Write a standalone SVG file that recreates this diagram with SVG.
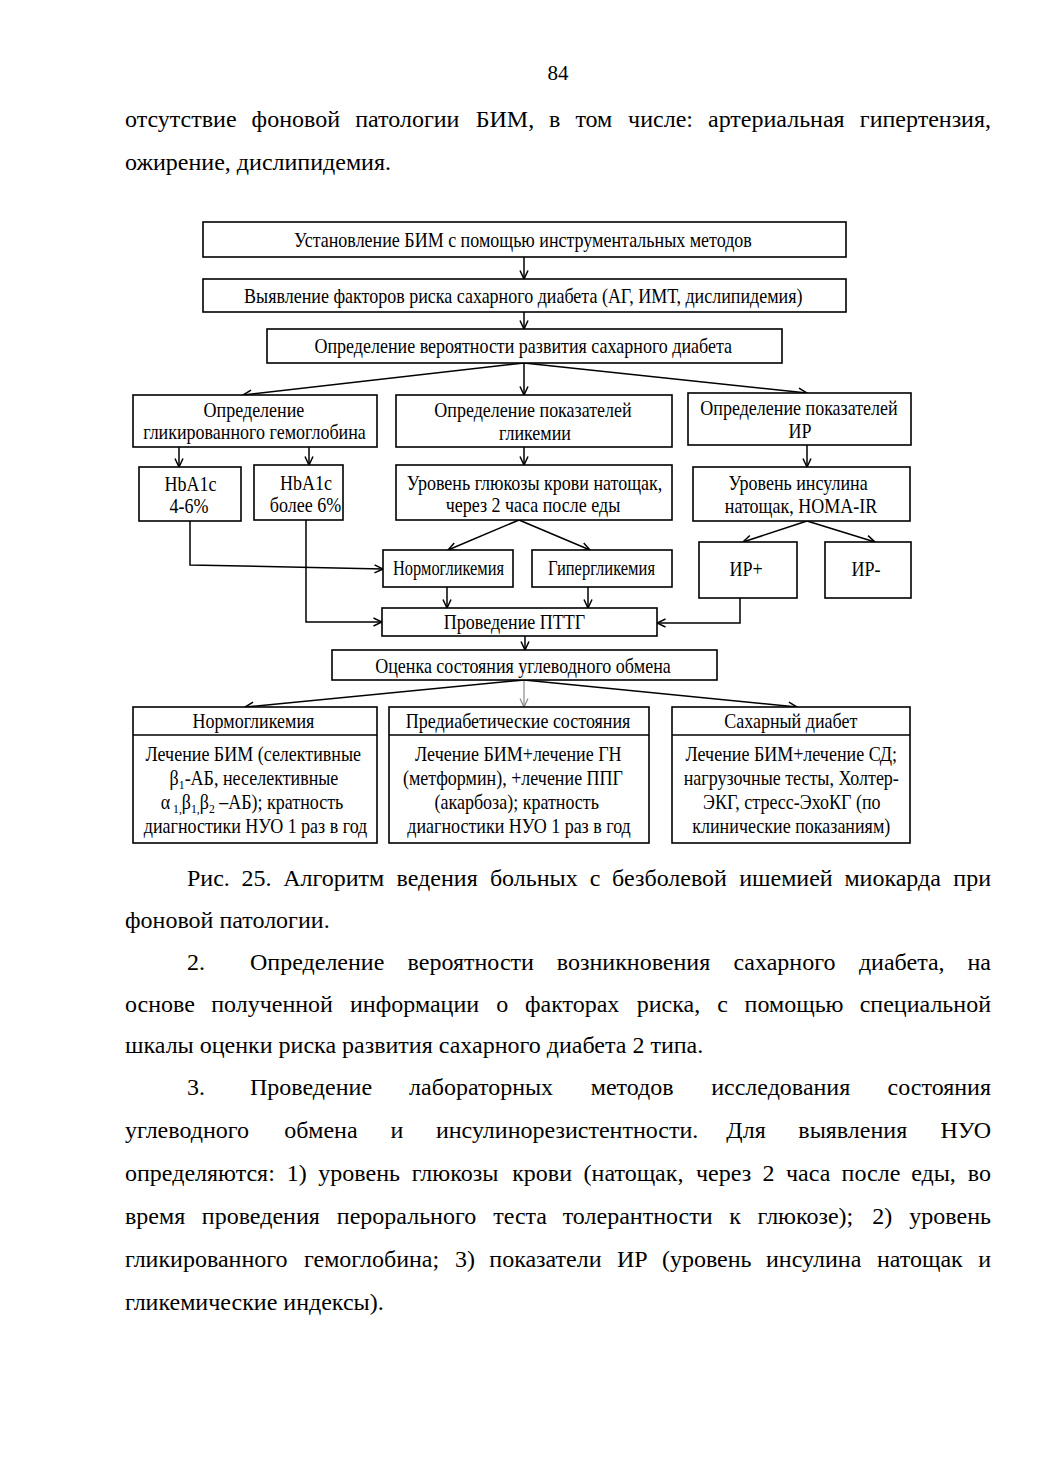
<svg xmlns="http://www.w3.org/2000/svg" width="1040" height="1471" viewBox="0 0 1040 1471">
<defs>
<style>
.bx{fill:#fff;stroke:#000;stroke-width:1.6}
.ln{fill:none;stroke:#000;stroke-width:1.5}
.lg{fill:none;stroke:#8a8a8a;stroke-width:1.2}
.t{font-family:"Liberation Serif","Times New Roman",serif;font-size:20px;fill:#000;text-anchor:middle}
.p{font-family:"Liberation Serif","Times New Roman",serif;font-size:24px;fill:#000}
.e{text-anchor:end}
.sb{font-size:13px}
</style>
<marker id="ah" viewBox="0 0 10 10" refX="9.5" refY="5" markerWidth="10" markerHeight="10" markerUnits="userSpaceOnUse" orient="auto">
<path d="M1,1 L9.5,5 L1,9" fill="none" stroke="#000" stroke-width="1.5"/>
</marker>
<marker id="ahg" viewBox="0 0 10 10" refX="9.5" refY="5" markerWidth="10" markerHeight="10" markerUnits="userSpaceOnUse" orient="auto">
<path d="M1,1 L9.5,5 L1,9" fill="none" stroke="#8a8a8a" stroke-width="1.2"/>
</marker>
</defs>
<rect width="1040" height="1471" fill="#fff"/>

<g id="page-text">
<text class="p" x="558" y="80" style="font-size:21px;text-anchor:middle">84</text>
<text class="p" y="127"><tspan x="125">отсутствие</tspan><tspan x="251.6">фоновой</tspan><tspan x="355.2">патологии</tspan><tspan x="475.7">БИМ,</tspan><tspan x="549.1">в</tspan><tspan x="575.4">том</tspan><tspan x="628.1">числе:</tspan><tspan x="708">артериальная</tspan></text>
<text class="p e" x="991" y="127">гипертензия,</text>
<text class="p" x="125" y="170">ожирение, дислипидемия.</text>

<text class="p" y="886"><tspan x="187">Рис.</tspan><tspan x="241.5">25.</tspan><tspan x="283.2">Алгоритм</tspan><tspan x="396.6">ведения</tspan><tspan x="489.9">больных</tspan><tspan x="589.7">с</tspan><tspan x="612.1">безболевой</tspan><tspan x="739.2">ишемией</tspan><tspan x="844.4">миокарда</tspan></text>
<text class="p e" x="991" y="886">при</text>
<text class="p" x="125" y="928">фоновой патологии.</text>

<text class="p" y="970"><tspan x="187">2.</tspan><tspan x="250">Определение</tspan><tspan x="407.6">вероятности</tspan><tspan x="556.8">возникновения</tspan><tspan x="733.4">сахарного</tspan><tspan x="858.9">диабета,</tspan></text>
<text class="p e" x="991" y="970">на</text>
<text class="p" y="1011.5"><tspan x="125">основе</tspan><tspan x="211.2">полученной</tspan><tspan x="350">информации</tspan><tspan x="496.3">о</tspan><tspan x="525">факторах</tspan><tspan x="636.7">риска,</tspan><tspan x="717.2">с</tspan><tspan x="744.6">помощью</tspan></text>
<text class="p e" x="991" y="1011.5">специальной</text>
<text class="p" x="125" y="1053">шкалы оценки риска развития сахарного диабета 2 типа.</text>

<text class="p" y="1095"><tspan x="187">3.</tspan><tspan x="250">Проведение</tspan><tspan x="409.1">лабораторных</tspan><tspan x="590.7">методов</tspan><tspan x="711.2">исследования</tspan></text>
<text class="p e" x="991" y="1095">состояния</text>
<text class="p" y="1138"><tspan x="125">углеводного</tspan><tspan x="284.3">обмена</tspan><tspan x="390.5">и</tspan><tspan x="435.9">инсулинорезистентности.</tspan><tspan x="726.3">Для</tspan><tspan x="798.3">выявления</tspan></text>
<text class="p e" x="991" y="1138">НУО</text>
<text class="p" y="1181"><tspan x="125">определяются:</tspan><tspan x="286.8">1)</tspan><tspan x="318.3">уровень</tspan><tspan x="411.7">глюкозы</tspan><tspan x="512.2">крови</tspan><tspan x="583.6">(натощак,</tspan><tspan x="696">через</tspan><tspan x="762.4">2</tspan><tspan x="786">часа</tspan><tspan x="841.6">после</tspan><tspan x="911.2">еды,</tspan></text>
<text class="p e" x="991" y="1181">во</text>
<text class="p" y="1224"><tspan x="125">время</tspan><tspan x="201.8">проведения</tspan><tspan x="336.8">перорального</tspan><tspan x="493.2">теста</tspan><tspan x="562.7">толерантности</tspan><tspan x="729.2">к</tspan><tspan x="757.5">глюкозе);</tspan><tspan x="872.3">2)</tspan></text>
<text class="p e" x="991" y="1224">уровень</text>
<text class="p" y="1266.7"><tspan x="125">гликированного</tspan><tspan x="304">гемоглобина;</tspan><tspan x="455">3)</tspan><tspan x="489.3">показатели</tspan><tspan x="616.9">ИР</tspan><tspan x="661.9">(уровень</tspan><tspan x="766">инсулина</tspan><tspan x="876.9">натощак</tspan></text>
<text class="p e" x="991" y="1266.7">и</text>
<text class="p" x="125" y="1310">гликемические индексы).</text>
</g>

<g id="connectors">
<line class="ln" x1="524" y1="257" x2="524" y2="279" marker-end="url(#ah)"/>
<line class="ln" x1="524" y1="312" x2="524" y2="329" marker-end="url(#ah)"/>
<line class="ln" x1="524" y1="363" x2="243" y2="395" marker-end="url(#ah)"/>
<line class="ln" x1="524" y1="363" x2="524" y2="395" marker-end="url(#ah)"/>
<line class="ln" x1="524" y1="363" x2="807" y2="393" marker-end="url(#ah)"/>
<line class="ln" x1="179" y1="447" x2="179" y2="467" marker-end="url(#ah)"/>
<line class="ln" x1="309" y1="447" x2="309" y2="465" marker-end="url(#ah)"/>
<line class="ln" x1="524" y1="447" x2="524" y2="465" marker-end="url(#ah)"/>
<line class="ln" x1="807" y1="445" x2="807" y2="467" marker-end="url(#ah)"/>
<polyline class="ln" points="190,521 190,565 383,569" marker-end="url(#ah)"/>
<polyline class="ln" points="306,520 306,622 382,622" marker-end="url(#ah)"/>
<line class="ln" x1="519" y1="520" x2="448" y2="550" marker-end="url(#ah)"/>
<line class="ln" x1="519" y1="520" x2="590" y2="550" marker-end="url(#ah)"/>
<line class="ln" x1="807" y1="521" x2="743" y2="542" marker-end="url(#ah)"/>
<line class="ln" x1="807" y1="521" x2="875" y2="542" marker-end="url(#ah)"/>
<line class="ln" x1="447" y1="587" x2="447" y2="608" marker-end="url(#ah)"/>
<line class="ln" x1="588" y1="587" x2="588" y2="608" marker-end="url(#ah)"/>
<polyline class="ln" points="740,598 740,623 657,623" marker-end="url(#ah)"/>
<line class="ln" x1="525" y1="636" x2="525" y2="650" marker-end="url(#ah)"/>
<line class="ln" x1="524" y1="680" x2="245" y2="707" marker-end="url(#ah)"/>
<line class="lg" x1="524" y1="680" x2="524" y2="707" marker-end="url(#ahg)"/>
<line class="ln" x1="524" y1="680" x2="797" y2="707" marker-end="url(#ah)"/>
</g>

<g id="n-ustanovlenie">
<rect class="bx" x="203" y="222" width="643" height="35"/>
<text class="t" transform="scale(0.9,1)" x="581.1" y="247">Установление БИМ с помощью инструментальных методов</text>
</g>
<g id="n-vyyavlenie">
<rect class="bx" x="203" y="279" width="643" height="33"/>
<text class="t" transform="scale(0.9,1)" x="581.4" y="303">Выявление факторов риска сахарного диабета (АГ, ИМТ, дислипидемия)</text>
</g>
<g id="n-veroyatnost">
<rect class="bx" x="267" y="329" width="515" height="34"/>
<text class="t" transform="scale(0.9,1)" x="581.4" y="353">Определение вероятности развития сахарного диабета</text>
</g>
<g id="n-hb">
<rect class="bx" x="133" y="395" width="244" height="52"/>
<text class="t" transform="scale(0.9,1)" x="282.2" y="417">Определение</text>
<text class="t" transform="scale(0.9,1)" x="282.8" y="439">гликированного гемоглобина</text>
</g>
<g id="n-glik">
<rect class="bx" x="396" y="395" width="276" height="52"/>
<text class="t" transform="scale(0.9,1)" x="592.2" y="417">Определение показателей</text>
<text class="t" transform="scale(0.9,1)" x="594.4" y="440">гликемии</text>
</g>
<g id="n-ir">
<rect class="bx" x="688" y="393" width="223" height="52"/>
<text class="t" transform="scale(0.9,1)" x="887.8" y="415">Определение показателей</text>
<text class="t" transform="scale(0.9,1)" x="888.9" y="438">ИР</text>
</g>
<g id="n-hba1c-46">
<rect class="bx" x="139" y="467" width="102" height="54"/>
<text class="t" transform="scale(0.9,1)" x="211.7" y="491">HbA1c</text>
<text class="t" transform="scale(0.9,1)" x="210" y="513">4-6%</text>
</g>
<g id="n-hba1c-6">
<rect class="bx" x="254" y="465" width="89" height="55"/>
<text class="t" transform="scale(0.9,1)" x="340" y="490">HbA1c</text>
<text class="t" transform="scale(0.9,1)" x="339.4" y="512">более 6%</text>
</g>
<g id="n-glucose">
<rect class="bx" x="396" y="465" width="276" height="55"/>
<text class="t" transform="scale(0.9,1)" x="593.9" y="490">Уровень глюкозы крови натощак,</text>
<text class="t" transform="scale(0.9,1)" x="592.2" y="512">через 2 часа после еды</text>
</g>
<g id="n-insulin">
<rect class="bx" x="693" y="467" width="217" height="54"/>
<text class="t" transform="scale(0.9,1)" x="886.7" y="490">Уровень инсулина</text>
<text class="t" transform="scale(0.9,1)" x="890" y="513">натощак, HOMA-IR</text>
</g>
<g id="n-normo">
<rect class="bx" x="383" y="550" width="130" height="37"/>
<text class="t" x="448.5" y="575" textLength="111" lengthAdjust="spacingAndGlyphs">Нормогликемия</text>
</g>
<g id="n-hyper">
<rect class="bx" x="532" y="550" width="140" height="37"/>
<text class="t" x="601.5" y="575" textLength="107" lengthAdjust="spacingAndGlyphs">Гипергликемия</text>
</g>
<g id="n-irplus">
<rect class="bx" x="699" y="542" width="98" height="56"/>
<text class="t" transform="scale(0.9,1)" x="828.9" y="576">ИР+</text>
</g>
<g id="n-irminus">
<rect class="bx" x="825" y="542" width="86" height="56"/>
<text class="t" transform="scale(0.9,1)" x="962.2" y="576">ИР-</text>
</g>
<g id="n-pttg">
<rect class="bx" x="382" y="608" width="275" height="28"/>
<text class="t" transform="scale(0.9,1)" x="571.7" y="629">Проведение ПТТГ</text>
</g>
<g id="n-ocenka">
<rect class="bx" x="332" y="650" width="385" height="30"/>
<text class="t" transform="scale(0.9,1)" x="581.1" y="673">Оценка состояния углеводного обмена</text>
</g>
<g id="n-res-normo">
<rect class="bx" x="133" y="707" width="244" height="136"/>
<line class="ln" x1="133" y1="735" x2="377" y2="735"/>
<text class="t" transform="scale(0.9,1)" x="281.6" y="728">Нормогликемия</text>
<text class="t" transform="scale(0.9,1)" x="281.4" y="761.5">Лечение БИМ (селективные</text>
<text class="t" transform="scale(0.9,1)" x="282.2" y="785">β<tspan class="sb" dy="4">1</tspan><tspan dy="-4">-АБ, неселективные</tspan></text>
<text class="t" transform="scale(0.9,1)" x="280" y="809">α<tspan class="sb" dy="4"> 1,</tspan><tspan dy="-4">β</tspan><tspan class="sb" dy="4">1,</tspan><tspan dy="-4">β</tspan><tspan class="sb" dy="4">2</tspan><tspan dy="-4"> –АБ); кратность</tspan></text>
<text class="t" transform="scale(0.9,1)" x="283.9" y="833">диагностики НУО 1 раз в год</text>
</g>
<g id="n-res-prediab">
<rect class="bx" x="389" y="707" width="260" height="136"/>
<line class="ln" x1="389" y1="735" x2="649" y2="735"/>
<text class="t" transform="scale(0.9,1)" x="575.6" y="728">Предиабетические состояния</text>
<text class="t" transform="scale(0.9,1)" x="575.9" y="761.5">Лечение БИМ+лечение ГН</text>
<text class="t" transform="scale(0.9,1)" x="570" y="785">(метформин), +лечение ППГ</text>
<text class="t" transform="scale(0.9,1)" x="574.1" y="809">(акарбоза); кратность</text>
<text class="t" transform="scale(0.9,1)" x="576.7" y="833">диагностики НУО 1 раз в год</text>
</g>
<g id="n-res-diab">
<rect class="bx" x="672" y="707" width="238" height="136"/>
<line class="ln" x1="672" y1="735" x2="910" y2="735"/>
<text class="t" transform="scale(0.9,1)" x="878.6" y="728">Сахарный диабет</text>
<text class="t" transform="scale(0.9,1)" x="879.2" y="761.5">Лечение БИМ+лечение СД;</text>
<text class="t" transform="scale(0.9,1)" x="879.2" y="785">нагрузочные тесты, Холтер-</text>
<text class="t" transform="scale(0.9,1)" x="879.8" y="809">ЭКГ, стресс-ЭхоКГ (по</text>
<text class="t" transform="scale(0.9,1)" x="879.2" y="833">клинические показаниям)</text>
</g>
</svg>
